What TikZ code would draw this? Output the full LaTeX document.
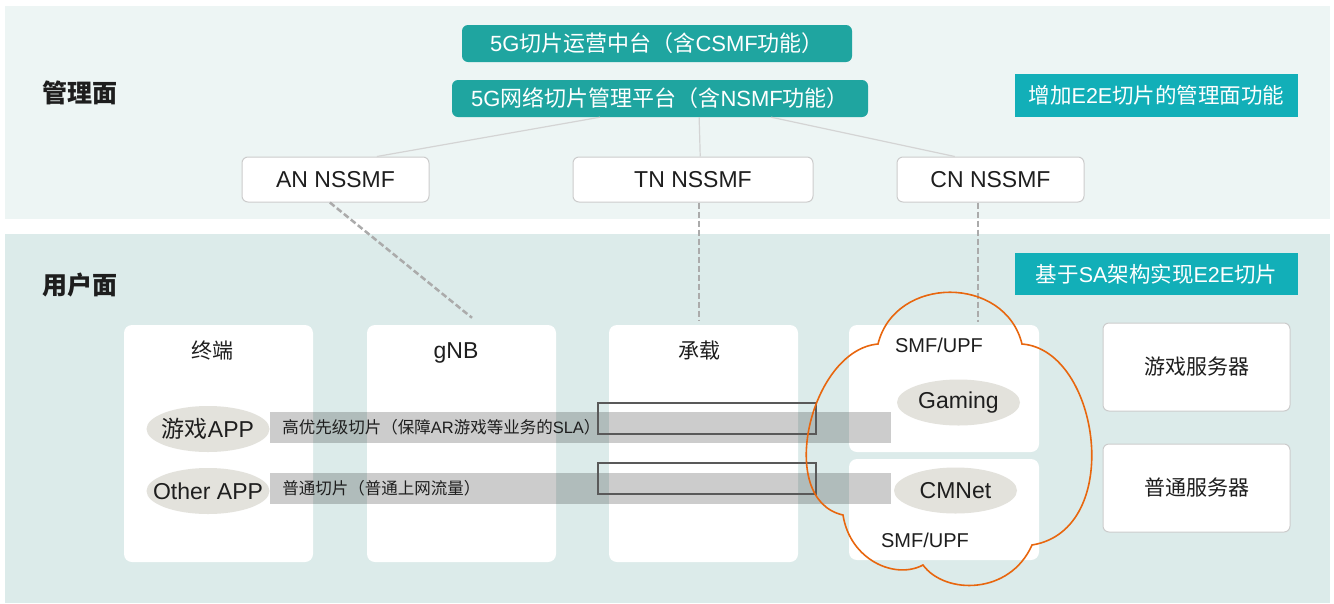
\documentclass[tikz,border=0pt]{standalone}
\usepackage{fontspec}
\setmainfont{Liberation Sans}
\newfontfamily\cjk{Noto Sans CJK SC}
\usetikzlibrary{calc,shapes.geometric}
\definecolor{mgmtbg}{HTML}{EDF5F4}
\definecolor{userbg}{HTML}{DCEBEA}
\definecolor{tealbox}{HTML}{1FA5A0}
\definecolor{tagbox}{HTML}{12AFB8}
\definecolor{appgray}{HTML}{E3E2DC}
\definecolor{cloudline}{HTML}{E8660E}
\definecolor{ink}{HTML}{1E1E1E}
\newcommand{\zh}[1]{{\cjk #1}}

\begin{document}
\begin{tikzpicture}[x=1pt, y=-1pt, text=ink,
    platform/.style={fill=tealbox, rounded corners=6, text=white, minimum height=37, font=\fontsize{22}{26}\selectfont},
    tag/.style={fill=tagbox, text=white, minimum width=283, minimum height=42, font=\fontsize{21.5}{25}\selectfont},
    plane/.style={font=\fontsize{25}{30}\selectfont\bfseries},
    nssmf/.style={draw=black!20, fill=white, rounded corners=6, line width=1, minimum width=187, minimum height=45, font=\fontsize{23}{27}\selectfont},
    column/.style={fill=white, rounded corners=8, minimum width=189, minimum height=237},
    server/.style={draw=black!20, fill=white, rounded corners=6, line width=1, minimum width=187, minimum height=88, font=\fontsize{21}{25}\selectfont},
    title/.style={anchor=base, font=\fontsize{21}{25}\selectfont},
    smftitle/.style={anchor=base, font=\fontsize{20}{24}\selectfont},
    app/.style={ellipse, fill=appgray, inner sep=0, minimum width=123, minimum height=46, font=\fontsize{23}{27}\selectfont},
    band/.style={fill=black, fill opacity=0.2, inner sep=0, minimum width=621, minimum height=31},
    bandtext/.style={anchor=west, font=\fontsize{16.5}{19}\selectfont},
    slot/.style={draw=black!65, line width=1.2, inner sep=0, minimum width=218, minimum height=31},
    tree/.style={draw=black!17, line width=1.2},
    link/.style={draw=black!33, line width=2.5, dash pattern=on 6pt off 3pt}]
    \useasboundingbox (0,0) rectangle (1334,603);
    \fill[mgmtbg] (5,6) rectangle (1330,219);
    \fill[userbg] (5,234) rectangle (1330,603);

    \node[platform, minimum width=390] (csmf) at (657,43.5) {5G\zh{切片运营中台（含}CSMF\zh{功能）}};
    \node[platform, minimum width=416] (nsmf) at (660,98.5) {5G\zh{网络切片管理平台（含}NSMF\zh{功能）}};
    \node[tag, minimum height=43] (mgmttag) at (1156.5,95.5) {\zh{增加}E2E\zh{切片的管理面功能}};
    \node[plane] (mgmt) at (80,93) {\zh{管理面}};

    \node[nssmf] (an) at (335.5,179.5) {AN NSSMF};
    \node[nssmf, minimum width=240] (tn) at (693,179.5) {TN NSSMF};
    \node[nssmf] (cn) at (990.5,179.5) {CN NSSMF};
    \draw[tree] ($(nsmf.south west)!0.356!(nsmf.south east)$) -- ($(an.north west)!0.72!(an.north east)$);
    \draw[tree] ($(nsmf.south west)!0.594!(nsmf.south east)$) -- ($(tn.north west)!0.53!(tn.north east)$);
    \draw[tree] ($(nsmf.south west)!0.767!(nsmf.south east)$) -- ($(cn.north west)!0.31!(cn.north east)$);

    \node[plane] (user) at (80,285) {\zh{用户面}};
    \node[tag] (usertag) at (1156.5,274) {\zh{基于}SA\zh{架构实现}E2E\zh{切片}};

    \node[column] (ue) at (218.5,443.5) {};
    \node[column] (gnb) at (461.5,443.5) {};
    \node[column] (bearer) at (703.5,443.5) {};
    \node[column, minimum width=190, minimum height=127] (smfa) at (944,388.5) {};
    \node[column, minimum width=190, minimum height=101] (smfb) at (944,509.5) {};
    \node[server] (gamesrv) at (1196.5,367) {\zh{游戏服务器}};
    \node[server] (normsrv) at (1196.5,488) {\zh{普通服务器}};

    \node[title] (uetitle) at (212,358) {\zh{终端}};
    \node[title, font=\fontsize{23}{27}\selectfont] (gnbtitle) at (456,358) {gNB};
    \node[title] (bearertitle) at (699,358) {\zh{承载}};
    \node[smftitle] (smfatitle) at (939,352) {SMF/UPF};
    \node[smftitle] (smfbtitle) at (925,547) {SMF/UPF};

    \draw[link] ($(an.south west)!0.47!(an.south east)$) -- ($(gnb.north)+(10.5,-7)$);
    \draw[link] ($(tn.south)+(6,0)$) -- ($(tn.south |- bearer.north)+(6,-5)$);
    \draw[link] ($(cn.south)+(-12.5,0)$) -- ($(cn.south |- smfa.north)+(-12.5,-3)$);

    \node[app] (gameapp) at (208,429) {\makebox[0pt]{\zh{游戏}APP}};
    \node[app] (otherapp) at (208,491) {\makebox[0pt]{Other APP}};
    \node[app] (gaming) at (958.5,402.5) {\makebox[0pt]{Gaming}};
    \node[app] (cmnet) at (955.5,490.5) {\makebox[0pt]{CMNet}};

    \node[band] (hiband) at (580.5,427.5) {};
    \node[band] (loband) at (580.5,488.5) {};
    \node[bandtext] (hitext) at ([xshift=9]hiband.west) {\zh{高优先级切片（保障}AR\zh{游戏等业务的}SLA\zh{）}};
    \node[bandtext] (lotext) at ([xshift=9]loband.west) {\zh{普通切片（普通上网流量）}};
    \node[slot] (hislot) at (707,418.5) {};
    \node[slot] (loslot) at (707,478.5) {};

    \draw[cloudline, line width=1.6] (878,344) .. controls (895,275) and (1005,275) .. (1022,344)
        .. controls (1100,350) and (1125,530) .. (1032,545)
        .. controls (1010,595) and (945,595) .. (923,565)
        .. controls (895,580) and (850,560) .. (843,515)
        .. controls (775,500) and (810,350) .. (878,344) -- cycle;
\end{tikzpicture}
\end{document}
